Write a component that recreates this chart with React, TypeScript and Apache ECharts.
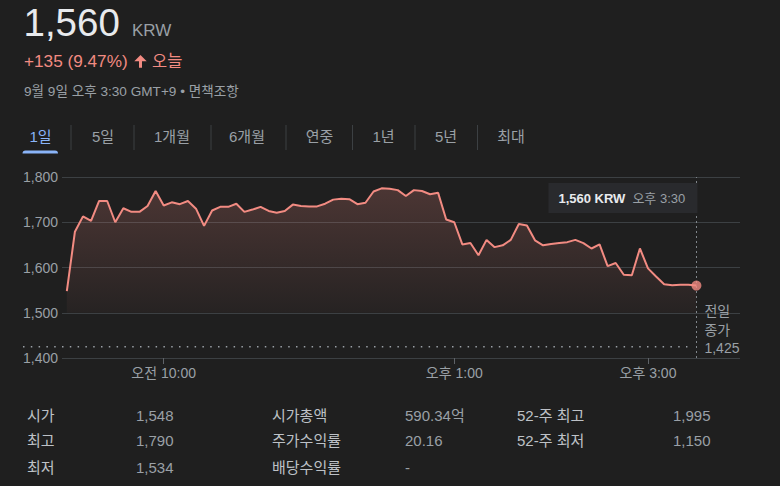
import React, { useEffect, useRef } from "react";
import * as echarts from "echarts";

const times = [
  "09:00","09:05","09:10","09:15","09:20","09:25","09:30","09:35","09:40","09:45","09:50","09:55",
  "10:00","10:05","10:10","10:15","10:20","10:25","10:30","10:35","10:40","10:45","10:50","10:55",
  "11:00","11:05","11:10","11:15","11:20","11:25","11:30","11:35","11:40","11:45","11:50","11:55",
  "12:00","12:05","12:10","12:15","12:20","12:25","12:30","12:35","12:40","12:45","12:50","12:55",
  "13:00","13:05","13:10","13:15","13:20","13:25","13:30","13:35","13:40","13:45","13:50","13:55",
  "14:00","14:05","14:10","14:15","14:20","14:25","14:30","14:35","14:40","14:45","14:50","14:55",
  "15:00","15:05","15:10","15:15","15:20","15:25","15:30"
];
const prices = [
  1548,1679,1713,1703,1747,1747,1700,1731,1723,1723,
  1736,1769,1737,1744,1740,1747,1730,1692,1726,1734,
  1734,1741,1723,1728,1734,1725,1721,1725,1739,1736,
  1735,1735,1741,1750,1752,1751,1740,1743,1768,1775,
  1774,1771,1758,1771,1769,1762,1765,1706,1700,1651,
  1654,1627,1661,1645,1649,1661,1696,1693,1660,1649,
  1652,1654,1656,1661,1654,1642,1651,1603,1610,1584,
  1583,1642,1598,1580,1563,1561,1562,1562,1560
];
const xLabelTimes = ["10:00", "13:00", "15:00"];
const xLabelTexts = ["오전 10:00", "오후 1:00", "오후 3:00"];
const prevClose = 1425;
const prevCloseLabel = ["전일", "종가", "1,425"];
const tabs = ["1일", "5일", "1개월", "6개월", "연중", "1년", "5년", "최대"];
const statLabelsA = ["시가", "최고", "최저"];
const statValuesA = ["1,548", "1,790", "1,534"];
const statLabelsB = ["시가총액", "주가수익률", "배당수익률"];
const statValuesB = ["590.34억", "20.16", "-"];
const statLabelsC = ["52-주 최고", "52-주 최저"];
const statValuesC = ["1,995", "1,150"];

const FONT = 'Arial, "Liberation Sans", "Noto Sans CJK KR", sans-serif';
const BG = "#1f1f1f";
const RED = "#f28b82";
const GRAY = "#9aa0a6";
const LIGHT = "#e8eaed";

const toMin = (t: string) => {
  const [h, m] = t.split(":").map(Number);
  return (h - 9) * 60 + m;
};

function txt(x: number, y: number, text: string, fontSize: number, fill: string, extra: any = {}) {
  return {
    type: "text",
    x,
    y,
    silent: true,
    style: {
      text,
      fontSize,
      fontFamily: FONT,
      fill,
      align: extra.align || "left",
      verticalAlign: "middle",
      fontWeight: extra.fontWeight || "normal",
    },
  };
}

export default function App() {
  const ref = useRef<HTMLDivElement>(null);
  useEffect(() => {
    if (!ref.current) return;
    const chart = echarts.init(ref.current, null, { renderer: "svg" });
    const data = times.map((t, i) => [toMin(t), prices[i]]);
    const last = data[data.length - 1];
    const labelMap: Record<number, string> = {};
    xLabelTimes.forEach((t, i) => (labelMap[toMin(t)] = xLabelTexts[i]));
    const labelVals = xLabelTimes.map(toMin);

    chart.setOption({
      animation: false,
      backgroundColor: BG,
      grid: { left: 62, right: 40, top: 177, bottom: 128 },
      xAxis: {
        type: "value",
        min: -3,
        max: 417,
        splitLine: { show: false },
        axisLine: { show: false },
        axisTick: { show: true, customValues: labelVals, length: 6, lineStyle: { color: "#5f6368" } },
        axisLabel: {
          customValues: labelVals,
          formatter: (v: number) => labelMap[v] || "",
          color: GRAY,
          fontSize: 14,
          fontFamily: FONT,
          margin: 8,
        },
      },
      yAxis: {
        type: "value",
        min: 1400,
        max: 1800,
        interval: 100,
        axisLine: { show: false },
        axisTick: { show: false },
        splitLine: { lineStyle: { color: "#3c4043", width: 1 } },
        axisLabel: {
          color: GRAY,
          fontSize: 14,
          fontFamily: FONT,
          margin: 4,
          formatter: (v: number) => v.toLocaleString("en-US"),
        },
      },
      series: [
        {
          type: "line",
          data,
          symbol: "none",
          lineStyle: { color: RED, width: 2 },
          areaStyle: {
            origin: 1500,
            color: new echarts.graphic.LinearGradient(0, 0, 0, 1, [
              { offset: 0, color: "rgba(242,139,130,0.30)" },
              { offset: 1, color: "rgba(242,139,130,0.05)" },
            ]),
          },
          markLine: {
            silent: true,
            symbol: ["none", "none"],
            label: { show: false },
            lineStyle: { color: "#80868b", width: 1, type: [2, 3] },
            data: [{ xAxis: last[0] }],
          },
          z: 2,
        },
        {
          type: "scatter",
          data: [last],
          symbolSize: 10,
          itemStyle: { color: RED },
          z: 5,
        },
      ],
    });

    const pLast = chart.convertToPixel({ gridIndex: 0 }, last) as number[];
    const yPrev = (chart.convertToPixel({ gridIndex: 0 }, [0, prevClose]) as number[])[1];

    const els: any[] = [];
    // header
    els.push(txt(23.5, 22.5, "1,560", 38.5, LIGHT));
    els.push(txt(132, 30.8, "KRW", 17, GRAY));
    els.push(txt(24, 61, "+135 (9.47%)", 17.2, RED));
    els.push({
      type: "polygon",
      silent: true,
      shape: {
        points: [
          [140.5, 55], [146.7, 61.3], [142, 61.3], [142, 67.7],
          [139, 67.7], [139, 61.3], [134.3, 61.3],
        ],
      },
      style: { fill: RED },
    });
    els.push(txt(152, 61, "오늘", 16.5, RED));
    els.push(txt(24, 91.5, "9월 9일 오후 3:30 GMT+9 • 면책조항", 13.6, GRAY));

    // tabs
    const tabCenters = [40.5, 103, 172, 247, 319.5, 383.5, 446, 511];
    tabs.forEach((t, i) =>
      els.push(txt(tabCenters[i], 136.5, t, 15, i === 0 ? "#8ab4f8" : GRAY, { align: "center" }))
    );
    [71, 134, 211, 286, 352.5, 415, 477.5].forEach((x) =>
      els.push({
        type: "line",
        silent: true,
        shape: { x1: x, y1: 125, x2: x, y2: 150 },
        style: { stroke: "#3c4043", lineWidth: 1 },
      })
    );
    els.push({
      type: "rect",
      silent: true,
      shape: { x: 22.5, y: 150.5, width: 35.5, height: 3, r: [3, 3, 0, 0] },
      style: { fill: "#8ab4f8" },
    });

    // previous close dotted line
    els.push({
      type: "line",
      silent: true,
      shape: { x1: 23, y1: yPrev, x2: pLast[0] - 9, y2: yPrev },
      style: { stroke: GRAY, lineWidth: 1.5, lineDash: [1.5, 6.3] },
      z: 3,
    });
    prevCloseLabel.forEach((t, i) =>
      els.push(txt(pLast[0] + 8, [310.5, 330, 348][i], t, 14, GRAY))
    );

    // tooltip
    els.push({
      type: "rect",
      silent: true,
      shape: { x: pLast[0] - 148, y: 183, width: 149, height: 30 },
      style: { fill: "#292a2d" },
      z: 10,
    });
    els.push({ ...txt(pLast[0] - 138, 198, "1,560 KRW", 13, LIGHT, { fontWeight: "bold" }), z: 11 });
    els.push({ ...txt(pLast[0] - 64, 198, "오후 3:30", 13, GRAY), z: 11 });

    // stats table
    const rowsY = [415, 440.5, 467];
    statLabelsA.forEach((t, i) => els.push(txt(27, rowsY[i], t, 15, "#bdc1c6")));
    statValuesA.forEach((t, i) => els.push(txt(136, rowsY[i], t, 15, GRAY)));
    statLabelsB.forEach((t, i) => els.push(txt(272, rowsY[i], t, 15, "#bdc1c6")));
    statValuesB.forEach((t, i) => els.push(txt(405, rowsY[i], t, 15, GRAY)));
    statLabelsC.forEach((t, i) => els.push(txt(517, rowsY[i], t, 15, "#bdc1c6")));
    statValuesC.forEach((t, i) => els.push(txt(673, rowsY[i], t, 15, GRAY)));

    chart.setOption({ graphic: { elements: els } });

    return () => chart.dispose();
  }, []);

  return (
    <div
      ref={ref}
      style={{ position: "fixed", left: 0, top: 0, width: 780, height: 486, background: BG }}
    />
  );
}
